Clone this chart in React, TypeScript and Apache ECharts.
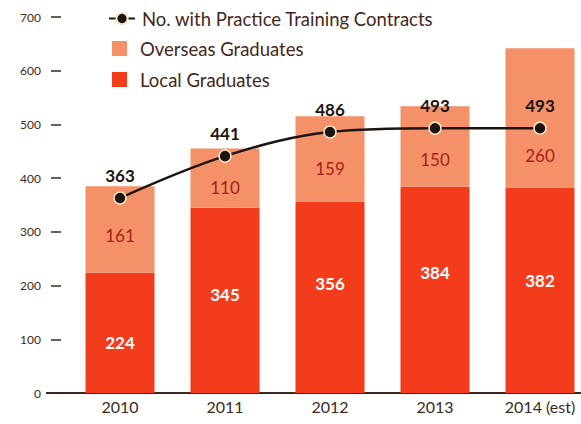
import React, { useEffect, useRef } from "react";
import * as echarts from "echarts";

const years = ["2010", "2011", "2012", "2013", "2014 (est)"];
const localGraduates = [224, 345, 356, 384, 382];
const overseasGraduates = [161, 110, 159, 150, 260];
const trainingContracts = [363, 441, 486, 493, 493];
const yTicks = { min: 0, max: 700, interval: 100 };

// label nudges (pixels) to match the reference's hand placement
const localLabelShift = [10, -6, -14, -17, -10];
const overseasLabelShift = [6, 9, 9, 13, 38];

const FONT = "Lato, 'Open Sans', sans-serif";
const BROWN = "#45271c";

export default function App() {
  const ref = useRef<HTMLDivElement>(null);
  useEffect(() => {
    if (!ref.current) return;
    const chart = echarts.init(ref.current, null, { renderer: "svg" });
    chart.setOption({
      animation: false,
      backgroundColor: "#ffffff",
      textStyle: { fontFamily: FONT },
      grid: { left: 67.5, top: 17, bottom: 31, width: 525, outerBoundsMode: "none", containLabel: false },
      legend: [
        {
          data: ["No. with Practice Training Contracts"],
          left: 108,
          top: 9,
          padding: 0,
          itemWidth: 26,
          itemHeight: 14,
          textStyle: { fontFamily: FONT, fontSize: 18.5, color: BROWN, padding: [0, 0, 0, 2] },
        },
        {
          data: ["Overseas Graduates", "Local Graduates"],
          orient: "vertical",
          left: 112,
          top: 39,
          padding: 0,
          itemWidth: 15,
          itemHeight: 15,
          itemGap: 12,
          icon: "rect",
          textStyle: { fontFamily: FONT, fontSize: 18.5, color: BROWN, padding: [0, 0, 0, 8] },
        },
      ],
      xAxis: {
        type: "category",
        data: years,
        axisLine: { show: true, lineStyle: { color: "#3a2a22", width: 2 } },
        axisTick: { show: false },
        axisLabel: { fontFamily: FONT, fontSize: 16, color: "#3a2a22", margin: 5 },
      },
      yAxis: {
        type: "value",
        min: yTicks.min,
        max: yTicks.max,
        interval: yTicks.interval,
        offset: 6.5,
        axisLine: { show: false },
        axisTick: { show: true, length: 10, lineStyle: { color: "#3a2a22", width: 1.5 } },
        splitLine: { show: false },
        axisLabel: {
          fontFamily: FONT,
          fontSize: 12,
          color: BROWN,
          margin: 20,
          verticalAlign: "middle",
          padding: [0, 0, 8, 0],
        },
      },
      graphic: [
        {
          type: "line",
          shape: { x1: 46, y1: 393, x2: 69, y2: 393 },
          style: { stroke: "#3a2a22", lineWidth: 2 },
        },
      ],
      series: [
        {
          name: "Local Graduates",
          type: "bar",
          stack: "grad",
          barWidth: 69,
          data: localGraduates.map((v, i) => ({
            value: v,
            label: { offset: [0, localLabelShift[i]] },
          })),
          itemStyle: { color: "#F23C1C" },
          label: {
            show: true,
            position: "inside",
            color: "#ffffff",
            fontFamily: FONT,
            fontWeight: "bold",
            fontSize: 17,
          },
        },
        {
          name: "Overseas Graduates",
          type: "bar",
          stack: "grad",
          barWidth: 69,
          data: overseasGraduates.map((v, i) => ({
            value: v,
            label: { offset: [0, overseasLabelShift[i]] },
          })),
          itemStyle: { color: "#F49169" },
          label: {
            show: true,
            position: "inside",
            color: "#A8221A",
            fontFamily: FONT,
            fontSize: 17,
          },
        },
        {
          name: "No. with Practice Training Contracts",
          type: "line",
          data: trainingContracts,
          smooth: 0.35,
          symbol: "circle",
          symbolSize: 12,
          lineStyle: { color: "#1c1410", width: 2.5 },
          itemStyle: { color: "#1c1410", borderColor: "#f7e6c4", borderWidth: 1.5 },
          label: {
            show: true,
            position: "top",
            distance: 7,
            color: "#1c1410",
            fontFamily: FONT,
            fontWeight: "bold",
            fontSize: 17,
          },
          z: 5,
        },
      ],
    });
    return () => chart.dispose();
  }, []);
  return (
    <div
      ref={ref}
      style={{ position: "fixed", left: 0, top: 0, width: 581, height: 424 }}
    />
  );
}
